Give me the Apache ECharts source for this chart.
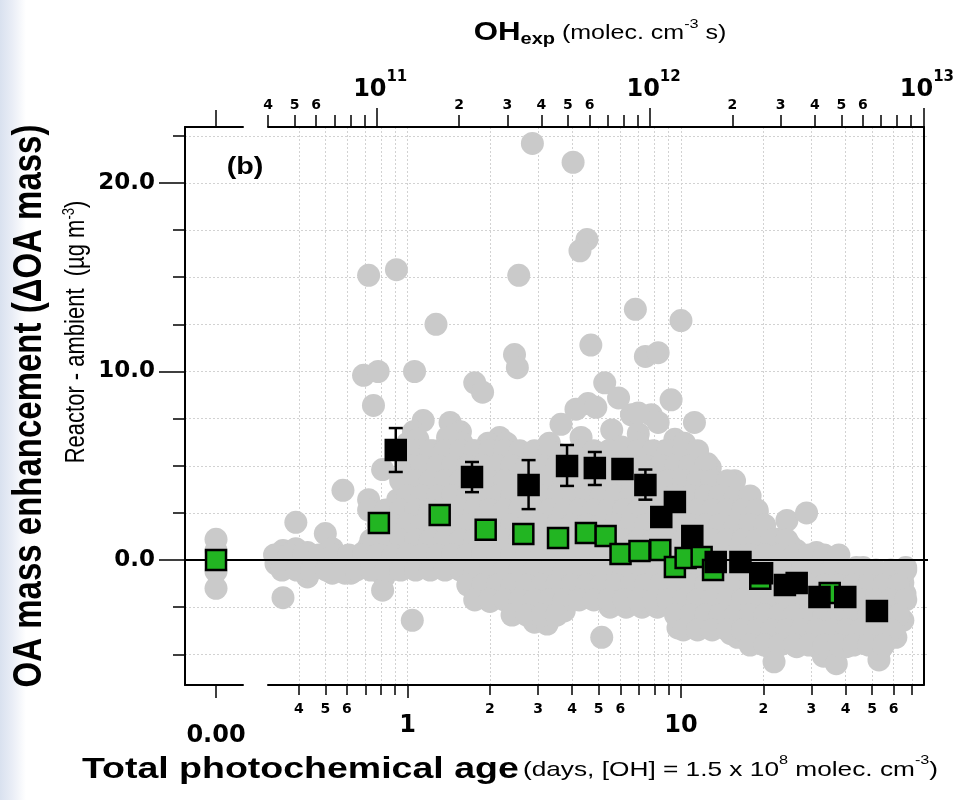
<!DOCTYPE html>
<html><head><meta charset="utf-8">
<script src="https://cdn.jsdelivr.net/npm/echarts@6/dist/echarts.min.js"></script>
<style>
html,body{margin:0;padding:0}
body{background:linear-gradient(to right,#d9e1ef 0,#e9edf6 12px,#ffffff 26px)}
#chart{width:957px;height:800px}
</style></head><body><div id="chart"></div>
<script>
// ---------- constants & data ----------
const OH_CONC = 1.5e6;          // molec cm-3
const SEC_PER_DAY = 86400;
const OHEXP_MIN = 4e10 * 0.9995;
const OHEXP_MAX = 1e13 * 1.0005;
const AGE_MIN = OHEXP_MIN / (OH_CONC * SEC_PER_DAY);
const AGE_MAX = OHEXP_MAX / (OH_CONC * SEC_PER_DAY);
const Y_MIN = -6.63, Y_MAX = 22.97;

const ageTicks = [0.4,0.5,0.6,0.7,0.8,0.9,1,2,3,4,5,6,7,8,9,10,20,30,40,50,60,70];
const ageMajorTicks = [1,10];
const ageSmallLabels = [0.4,0.5,0.6,2,3,4,5,6,20,30,40,50,60];
const ageBigLabels = [1,10];
const ohTicks = [4e10,5e10,6e10,7e10,8e10,9e10,1e11,2e11,3e11,4e11,5e11,6e11,7e11,8e11,9e11,
                 1e12,2e12,3e12,4e12,5e12,6e12,7e12,8e12,9e12,1e13];
const ohMajorTicks = [1e11,1e12,1e13];
const ohSmallLabels = [4e10,5e10,6e10,2e11,3e11,4e11,5e11,6e11,2e12,3e12,4e12,5e12,6e12];
const ohBigLabels = [1e11,1e12,1e13];
const yMajorTicks = [0,10,20];
const yMinorTicks = [-5,-2.5,2.5,5,7.5,10,12.5,15,17.5,20,22.5];

// individual measurements (age in days, delta OA in ug m-3)
const ambientPoints = [
 [2.86,22.1],[4.03,21.1],[4.53,17.0],[4.27,16.4],[0.72,15.1],[0.91,15.4],[2.55,15.1],[6.81,13.3],
 [10.0,12.7],[1.27,12.5],[4.68,11.4],[7.41,10.8],[8.25,11.0],[2.46,10.9],[2.52,10.2],[0.69,9.8],
 [0.78,10.0],[1.06,10.0],[1.76,9.4],[1.88,8.9],[5.26,9.4],[0.75,8.2],[4.57,8.3],[5.91,8.6],[9.2,8.5],
 [1.14,7.4],[1.43,7.3],[1.56,6.8],[3.64,7.2],[11.2,7.3],[7.79,7.7],[6.59,7.7],[4.13,8.0],[4.88,8.1],
 [6.98,6.7],[9.5,6.4],[5.58,6.9],[4.31,6.5],[2.17,6.5],[1.97,6.2],[1.05,6.8],[1.0,6.2],[1.09,5.8],
 [1.52,6.7],[1.58,6.2],[1.46,5.7],[1.32,5.5],[2.3,6.2],[2.05,5.8],[1.14,5.1],[1.28,4.9],[1.43,4.8],
 [1.09,4.6],[1.24,4.4],[1.52,4.2],[1.03,4.1],[0.81,4.8],[0.58,3.7],[0.72,3.2],[0.92,3.2],[1.0,3.3],
 [0.8,2.5],[0.87,1.4],[0.85,0.9],[0.94,2.5],[1.09,2.7],[1.24,3.0],[1.43,3.2],[1.6,3.3],[1.88,3.2],
 [2.23,3.3],[2.63,3.2],[3.03,3.3],[1.03,1.8],[1.14,1.4],[1.35,1.8],[1.6,2.0],[1.88,1.1],[2.23,0.7],
 [2.63,0.9],[3.11,1.1],[1.09,0.5],[1.24,0.2],[1.4,0.7],[1.56,0.2],[1.03,-0.2],[1.18,-0.2],[1.4,-0.3],
 [0.69,0.4],[0.72,0.7],[0.39,2.0],[0.5,1.4],[0.53,0.6],[0.35,0.5],[0.39,0.6],[0.43,0.4],[0.33,-0.2],
 [0.36,-0.4],[0.4,0.0],[0.43,-0.9],[0.48,-0.4],[0.53,-0.7],[0.59,-0.7],[0.35,-2.0],[0.62,-0.7],
 [0.82,-0.9],[0.81,-1.6],[1.04,-3.2],[1.0,0.0],[1.14,-0.4],[1.35,-0.4],[1.88,-1.1],[2.0,-2.2],
 [2.5,-2.2],[2.12,-0.5],[2.42,-0.9],[2.79,-0.7],[2.91,-3.3],[3.24,-3.4],[2.86,-1.4],[3.11,-1.8],
 [0.94,1.1],[1.12,0.7],[1.73,1.1],[1.4,1.1],[1.84,-0.9],[1.09,6.4],[1.24,5.8],[1.4,6.5],[1.73,5.8],
 [2.0,5.8],[2.3,5.1],[1.84,4.4],[3.3,6.2],[6.06,6.0],[6.98,6.2],[8.75,5.8],[10.3,6.2],[12.5,5.1],
 [2.12,2.8],[2.42,3.3],[3.22,3.3],[4.24,3.3],[5.58,3.3],[6.81,3.0],[1.84,2.5],[2.17,2.3],[3.03,2.3],
 [3.67,2.5],[6.06,2.5],[2.0,-0.7],[2.36,-1.1],[3.5,-0.7],[4.49,-0.9],[5.3,-1.2],[6.43,-1.4],[7.41,-1.1],
 [5.13,-4.1],[9.75,-3.6],[12.8,-3.3],[3.58,-1.6],[4.6,-2.0],[5.91,-2.1],[6.98,-2.3],[8.75,-2.3],
 [10.3,-2.1],[12.2,-2.0],[1.84,-1.6],[12.8,4.9],[15.7,4.2],[15.2,3.7],[13.3,3.3],[17.5,3.0],[19.0,2.5],
 [20.2,1.8],[24.4,2.1],[28.8,2.5],[22.5,1.1],[26.5,0.5],[31.3,0.4],[37,0.0],[46.4,-0.4],[57.7,-0.7],
 [64.8,-1.2],[62.7,-2.1],[11.5,-1.1],[12.5,-1.8],[13.6,-2.8],[14.8,-3.7],[16.1,-4.1],[19.0,-2.8],
 [21.9,-3.2],[25.0,-3.9],[28.1,-4.4],[33.2,-4.6],[38.0,-4.2],[44.9,-4.4],[53.0,-4.9],[54.8,-3.9],
 [61.1,-2.8],[21.9,-5.4],[33.2,-5.1],[37.0,-5.5],[53.0,-5.3],[64.8,-3.2],[61.1,-4.1],[43.8,-0.4],
 [66.4,-0.4],[26.5,-0.7],[30.6,-1.1],[37,-1.4],[43.8,-1.8],[23.0,-2.0],[28.1,-2.5],[34.9,-2.8],
 [43.8,-2.7],[51.7,-3.2],[16.5,-1.1],[20.2,-1.2],[14.4,-0.4],[13.3,-3.6],[15.2,-3.9],[26.5,-4.6],
 [40.3,-4.6],[8.25,7.3],[6.98,7.8],
 [3.58,5.6],[4.6,5.3],[5.44,4.8],[7.92,5.3],[10.6,4.8],[11.5,3.7],[9.75,2.7],[7.92,1.9],[11.5,2.1],
 [14.2,2.1],[16.1,1.1],[19.0,0.5],[13.6,0.8],[16.8,0.0],[22.5,0.0],[3.9,4.2],[3.3,4.8],[2.67,4.2],
 [2.79,5.3],[5.0,4.0],[6.98,3.7],[8.25,4.0],[4.8,2.1],[6.98,1.9],[10.6,1.1],[4.24,0.3],[5.91,-0.5],
 [8.25,-0.5],[10.6,-1.1],[8.97,-1.6],[11.5,-2.9],[16.1,-2.1],[19.0,-1.6],
 [22.5,-1.1],[31.3,-1.9],[40.3,-0.8],[51.7,-1.6],[31.3,-3.4],[22.5,-4.2],[19.0,-3.7],[37,-3.2],
 [43.8,-3.7],[3.74,-2.7],[3.3,-2.4],
 [3.3,0.3],[2.9,0.1],[3.9,1.9],[5.0,1.0],[5.6,0.4],[4.5,-0.3],[3.9,-0.3],[7.5,0.9],[9.0,1.0],
 [9.0,-0.5],[12.0,0.8],[14.5,1.3],[17.5,1.8],[18.5,-0.5],[25,0.8],[28,-1.6],[35,-0.7],[48,-1.2],
 [56,-2.4],[48,-2.2],[66,-1.8],[3.4,2.0],[4.0,2.5],[4.9,2.7],[5.5,1.9],[6.2,1.5],
 [5.5,-2.5],[6.3,-2.5],[7.2,-2.5],[8.2,-2.5]
];
// dense core of the cloud, read row by row: [delta OA, [ages...]]
const denseRows = [
 [5.8,  [1.07,1.21,1.37,1.56,1.76,2.0,2.26,2.57,2.91,3.30,4.24,4.80,5.44,6.16,6.98,7.92,8.97,10.2,11.5]],
 [5.0,  [1.0,1.13,1.29,1.46,1.66,1.88,2.13,2.41,2.73,3.10,3.51,3.98,4.51,5.11,5.79,6.56,7.44,8.43,9.55,10.8,12.3]],
 [4.2,  [0.943,1.07,1.21,1.37,1.56,1.76,2.0,2.26,2.57,2.91,3.30,3.74,4.24,4.80,5.44,6.16,6.98,7.92,8.97,10.2,11.5,13.0,14.8]],
 [3.4,  [1.0,1.13,1.29,1.46,1.66,1.88,2.13,2.41,2.73,3.10,3.51,3.98,4.51,5.11,5.79,6.56,7.44,8.43,9.55,10.8,12.3,13.9,15.8,17.9]],
 [2.65, [0.72,0.832,0.943,1.07,1.21,1.37,1.56,1.76,2.0,2.26,2.57,2.91,3.30,3.74,4.24,4.80,5.44,6.16,6.98,7.92,8.97,10.2,11.5,13.0,14.8,16.8,19.0]],
 [1.86, [0.78,0.886,1.0,1.13,1.29,1.46,1.66,1.88,2.13,2.41,2.73,3.10,3.51,3.98,4.51,5.11,5.79,6.56,7.44,8.43,9.55,10.8,12.3,13.9,15.8,17.9,20.2]],
 [1.06, [0.734,0.832,0.943,1.07,1.21,1.37,1.56,1.76,2.0,2.26,2.57,2.91,3.30,3.74,4.24,4.80,5.44,6.16,6.98,7.92,8.97,10.2,11.5,13.0,14.8,16.8,19.0,21.5,24.4]],
 [0.27, [0.326,0.369,0.418,0.474,0.537,0.609,0.69,0.78,0.886,1.0,1.13,1.29,1.46,1.66,1.88,2.13,2.41,2.73,3.10,3.51,3.98,4.51,5.11,5.79,6.56,7.44,8.43,9.55,10.8,12.3,13.9,15.8,17.9,20.2,22.9,26.0,29.4,33.4,37.8]],
 [-0.53,[0.347,0.393,0.445,0.505,0.572,0.648,0.734,0.832,0.943,1.07,1.21,1.37,1.56,1.76,2.0,2.26,2.57,2.91,3.30,3.74,4.24,4.80,5.44,6.16,6.98,7.92,8.97,10.2,11.5,13.0,14.8,16.8,19.0,21.5,24.4,27.7,31.3,35.5,40.3,45.6,51.7,58.6,66.4]],
 [-1.33,[1.66,1.88,2.13,2.41,2.73,3.10,3.51,3.98,4.51,5.11,5.79,6.56,7.44,8.43,9.55,10.8,12.3,13.9,15.8,17.9,20.2,22.9,26.0,29.4,33.4,37.8,42.8,48.6,55.1,62.4]],
 [-2.12,[1.76,2.0,2.26,2.57,2.91,3.30,3.74,4.24,4.80,5.44,6.16,6.98,7.92,8.97,10.2,11.5,13.0,14.8,16.8,19.0,21.5,24.4,27.7,31.3,35.5,40.3,45.6,51.7,58.6,66.4]],
 [-2.92,[2.41,2.73,3.10,3.51,9.55,10.8,12.3,13.9,15.8,17.9,20.2,22.9,26.0,29.4,33.4,37.8,42.8,48.6,55.1,62.4]],
 [-3.71,[10.2,11.5,13.0,14.8,16.8,19.0,21.5,24.4,27.7,31.3,35.5,40.3,45.6,51.7,58.6]],
 [-4.51,[17.9,20.2,22.9,26.0,29.4,33.4,37.8,42.8,48.6,55.1]]
];
const ambientZeroAge = [1.1,0.5,-0.6,-1.5];   // points at age 0.00

// binned values: total (black) and green series
const blackAge   = [0.905,1.72,2.77,3.83,4.84,6.11,7.41,8.47,9.5,11.0,13.4,16.5,19.8,24.0,26.5,32.1,39.9,52.1];
const blackDelta = [5.84,4.4,3.98,4.99,4.88,4.83,3.98,2.28,3.08,1.27,-0.1,-0.1,-0.7,-1.33,-1.22,-1.96,-1.96,-2.7];
const errAge  = [0.905,1.72,2.77,3.83,4.84,7.41];
const errLow  = [4.67,3.6,2.7,3.93,3.98,3.2];
const errHigh = [7.0,5.2,5.3,6.1,5.73,4.8];
const greenAge   = [0.785,1.31,1.93,2.65,3.55,4.49,5.3,6.01,7.05,8.4,9.5,10.4,11.9,13.1,19.5,35.0];
const greenDelta = [1.96,2.39,1.6,1.38,1.17,1.43,1.27,0.32,0.48,0.53,-0.37,0.11,0.16,-0.53,-1.0,-1.75];
const greenZeroDelta = [0.0];

// ---------- helpers ----------
function mantExp(v){
  const e = Math.floor(Math.log10(v) + 1e-9);
  return [Math.round(v / Math.pow(10, e)), e];
}
const BOLD = 'DejaVu Sans';
const frameLine = {show: true, onZero: false, lineStyle: {color: '#000', width: 2}};
const noLine = {show: false, onZero: false};
const gridLine = {show: true, lineStyle: {color: '#d2d2d2', width: 1, type: [2, 2]}};
const tickStyle = {color: '#000', width: 1.5};
const lblBold = (size) => ({fontFamily: BOLD, fontWeight: 'bold', fontSize: size, lineHeight: size, color: '#000'});

const grayPts = ambientPoints.concat(...denseRows.map(r => r[1].map(a => [a, r[0]])));

const GRID_TOP = 127, GRID_BOTTOM = 115;
const logAxis = (pos, min, max, extra) => Object.assign({
  type: 'log', gridIndex: 2, position: pos, min: min, max: max, logBase: 10,
  axisLine: noLine, axisTick: {show: false}, minorTick: {show: false},
  axisLabel: {show: false}, splitLine: {show: false}
}, extra);

const option = {
  animation: false,
  grid: [
    {left: 185, top: GRID_TOP, width: 743, bottom: GRID_BOTTOM},   // background
    {left: 185, top: GRID_TOP, width: 58, bottom: GRID_BOTTOM},    // age 0 segment
    {left: 268, top: GRID_TOP, width: 660, bottom: GRID_BOTTOM}    // log segment
  ],
  xAxis: [
    {type: 'value', gridIndex: 0, min: 0, max: 1, show: false},
    {type: 'value', gridIndex: 1, position: 'bottom', min: -1, max: 0.87,
     axisLine: frameLine,
     axisTick: {show: true, length: 13, customValues: [0], lineStyle: tickStyle},
     axisLabel: Object.assign({customValues: [0], margin: 39, formatter: v => v.toFixed(2)}, lblBold(24)),
     splitLine: {show: false}},
    {type: 'value', gridIndex: 1, position: 'top', min: -1, max: 0.87,
     axisLine: frameLine,
     axisTick: {show: true, length: 17, customValues: [0], lineStyle: tickStyle},
     axisLabel: {show: false}, splitLine: {show: false}},
    logAxis('bottom', AGE_MIN, AGE_MAX, {
     axisLine: frameLine,
     axisTick: {show: true, length: 10, customValues: ageTicks, lineStyle: tickStyle},
     axisLabel: Object.assign({customValues: ageSmallLabels, margin: 17, formatter: v => '' + mantExp(v)[0]}, lblBold(14)),
     splitLine: gridLine}),
    logAxis('bottom', AGE_MIN, AGE_MAX, {
     axisTick: {show: true, length: 13, customValues: ageMajorTicks, lineStyle: tickStyle},
     axisLabel: Object.assign({customValues: ageBigLabels, margin: 29, formatter: v => '' + Math.round(v)}, lblBold(24))}),
    logAxis('top', OHEXP_MIN, OHEXP_MAX, {
     axisLine: frameLine,
     axisTick: {show: true, length: 12, customValues: ohTicks, lineStyle: tickStyle},
     axisLabel: Object.assign({customValues: ohSmallLabels, margin: 14.5, formatter: v => '' + mantExp(v)[0]}, lblBold(14))}),
    logAxis('top', OHEXP_MIN, OHEXP_MAX, {
     axisTick: {show: true, length: 19, customValues: ohMajorTicks, lineStyle: tickStyle},
     axisLabel: Object.assign({customValues: ohBigLabels, margin: 25, padding: [0, 14, 0, 0], formatter: () => '10'}, lblBold(24))}),
    logAxis('top', OHEXP_MIN, OHEXP_MAX, {
     axisLabel: Object.assign({customValues: ohBigLabels, margin: 42, padding: [0, 0, 0, 40], formatter: v => '' + mantExp(v)[1]}, lblBold(15))})
  ],
  yAxis: [
    {type: 'value', gridIndex: 0, position: 'left', min: Y_MIN, max: Y_MAX,
     axisLine: frameLine,
     axisTick: {show: true, length: 26, customValues: yMajorTicks, lineStyle: tickStyle},
     axisLabel: Object.assign({customValues: yMajorTicks, margin: 30, formatter: v => v.toFixed(1)}, lblBold(23)),
     splitLine: {show: false}},
    {type: 'value', gridIndex: 0, position: 'left', min: Y_MIN, max: Y_MAX,
     axisLine: noLine,
     axisTick: {show: true, length: 12, customValues: yMinorTicks, lineStyle: tickStyle},
     axisLabel: {show: false},
     splitLine: gridLine},
    {type: 'value', gridIndex: 1, min: Y_MIN, max: Y_MAX, show: false},
    {type: 'value', gridIndex: 2, position: 'right', min: Y_MIN, max: Y_MAX,
     axisLine: frameLine, axisTick: {show: false}, axisLabel: {show: false}, splitLine: {show: false}}
  ],
  graphic: [
    {type: 'text', x: 600, y: 33, scaleX: 1.25, z: 10, style: {
      text: '{b|OH}{sub|exp}{r| (molec. cm}{sup|-3}{r| s)}', align: 'center', verticalAlign: 'middle',
      rich: {
        b: {fontFamily: 'Liberation Sans', fontWeight: 'bold', fontSize: 25, lineHeight: 30, fill: '#000'},
        sub: {fontFamily: 'Liberation Sans', fontWeight: 'bold', fontSize: 16, lineHeight: 16, verticalAlign: 'bottom', fill: '#000'},
        r: {fontFamily: 'Liberation Sans', fontSize: 20, lineHeight: 30, fill: '#000'},
        sup: {fontFamily: 'Liberation Sans', fontSize: 13, lineHeight: 13, verticalAlign: 'top', fill: '#000'}
      }}},
    {type: 'text', x: 510, y: 770, scaleX: 1.25, z: 10, style: {
      text: '{b|Total photochemical age} {r|(days, [OH] = 1.5 x 10}{sup|8}{r| molec. cm}{sup|-3}{r|)}',
      align: 'center', verticalAlign: 'middle',
      rich: {
        b: {fontFamily: 'Liberation Sans', fontWeight: 'bold', fontSize: 30, lineHeight: 32, fill: '#000'},
        r: {fontFamily: 'Liberation Sans', fontSize: 21, lineHeight: 32, fill: '#000'},
        sup: {fontFamily: 'Liberation Sans', fontSize: 13, lineHeight: 14, verticalAlign: 'top', fill: '#000'}
      }}},
    {type: 'text', x: 30, y: 406, rotation: Math.PI / 2, scaleY: 1.25, z: 10, style: {
      text: 'OA mass enhancement (ΔOA mass)', align: 'center', verticalAlign: 'middle',
      fontFamily: 'Liberation Sans', fontWeight: 'bold', fontSize: 33, fill: '#000'}},
    {type: 'text', x: 76, y: 332, rotation: Math.PI / 2, scaleY: 1.25, z: 10, style: {
      text: '{r|Reactor - ambient  (µg m}{sup|-3}{r|)}', align: 'center', verticalAlign: 'middle',
      rich: {
        r: {fontFamily: 'Liberation Sans', fontSize: 22, lineHeight: 24, fill: '#000'},
        sup: {fontFamily: 'Liberation Sans', fontSize: 13, lineHeight: 13, verticalAlign: 'top', fill: '#000'}
      }}},
    {type: 'text', x: 245, y: 168, scaleX: 1.25, z: 10, style: {
      text: '(b)', align: 'center', verticalAlign: 'middle',
      fontFamily: 'Liberation Sans', fontWeight: 'bold', fontSize: 23, fill: '#000'}}
  ],
  series: [
    {type: 'scatter', xAxisIndex: 3, yAxisIndex: 3, z: 2, symbol: 'circle', symbolSize: 23,
     itemStyle: {color: '#cacaca', opacity: 1}, data: grayPts, silent: true, large: false},
    {type: 'scatter', xAxisIndex: 1, yAxisIndex: 2, z: 2, symbol: 'circle', symbolSize: 23,
     itemStyle: {color: '#cacaca', opacity: 1}, data: ambientZeroAge.map(v => [0, v]), silent: true},
    {type: 'line', xAxisIndex: 0, yAxisIndex: 0, z: 3, symbol: 'none', silent: true,
     lineStyle: {color: '#000', width: 2}, data: [[0, 0], [1, 0]]},
    {type: 'scatter', xAxisIndex: 3, yAxisIndex: 3, z: 4, symbol: 'rect', symbolSize: 20,
     itemStyle: {color: '#22b522', borderColor: '#000', borderWidth: 2.5, opacity: 1},
     data: greenAge.map((a, i) => [a, greenDelta[i]]), silent: true},
    {type: 'scatter', xAxisIndex: 1, yAxisIndex: 2, z: 4, symbol: 'rect', symbolSize: 20,
     itemStyle: {color: '#22b522', borderColor: '#000', borderWidth: 2.5, opacity: 1},
     data: greenZeroDelta.map(v => [0, v]), silent: true},
    {type: 'custom', xAxisIndex: 3, yAxisIndex: 3, z: 5, silent: true,
     data: errAge.map((a, i) => [a, errLow[i], errHigh[i]]),
     renderItem: (params, api) => {
       const lo = api.coord([api.value(0), api.value(1)]);
       const hi = api.coord([api.value(0), api.value(2)]);
       const w = 7, st = {stroke: '#000', lineWidth: 2.5};
       return {type: 'group', children: [
         {type: 'line', shape: {x1: lo[0], y1: lo[1], x2: hi[0], y2: hi[1]}, style: st},
         {type: 'line', shape: {x1: lo[0] - w, y1: lo[1], x2: lo[0] + w, y2: lo[1]}, style: st},
         {type: 'line', shape: {x1: hi[0] - w, y1: hi[1], x2: hi[0] + w, y2: hi[1]}, style: st}
       ]};
     }},
    {type: 'scatter', xAxisIndex: 3, yAxisIndex: 3, z: 6, symbol: 'rect', symbolSize: 21,
     itemStyle: {color: '#000', borderColor: '#000', borderWidth: 1.5, opacity: 1},
     data: blackAge.map((a, i) => [a, blackDelta[i]]), silent: true}
  ]
};

const chart = echarts.init(document.getElementById('chart'), null, {renderer: 'canvas'});
chart.setOption(option);
</script></body></html>
